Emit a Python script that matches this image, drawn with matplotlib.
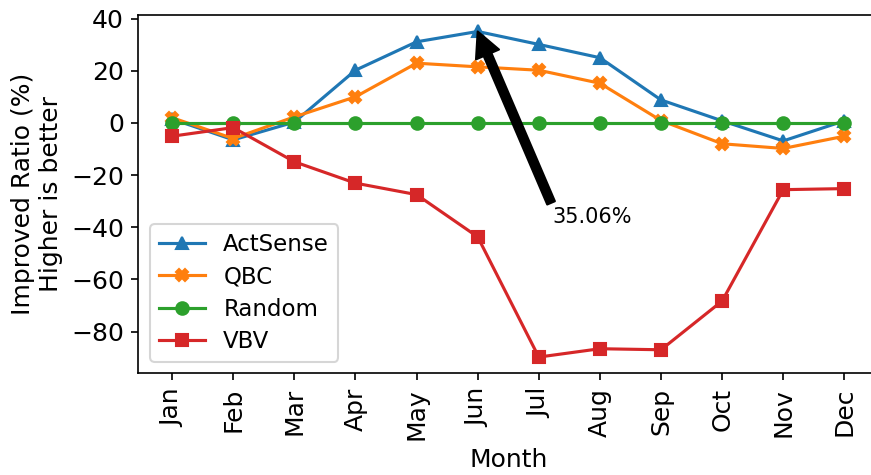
import matplotlib
matplotlib.use("Agg")
import matplotlib.pyplot as plt
import numpy as np

months = ['Jan', 'Feb', 'Mar', 'Apr', 'May', 'Jun',
          'Jul', 'Aug', 'Sep', 'Oct', 'Nov', 'Dec']

actsense = [1.5, -6.5, 0.3, 20.2, 31.1, 35.06, 30.1, 25.0, 8.8, 0.8, -6.9, 0.8]
qbc = [2.0, -6.0, 2.3, 10.0, 22.9, 21.5, 20.2, 15.2, 0.9, -8.0, -9.8, -5.1]
random_ = [0.0] * 12
vbv = [-5.1, -1.8, -14.9, -23.1, -27.5, -43.7, -89.8, -86.6, -87.0, -68.3, -25.6, -25.2]

fig, ax = plt.subplots(figsize=(871 / 150, 475 / 150), dpi=150)
# right edge of the axes falls just outside the picture, as in the original crop
fig.subplots_adjust(left=0.159, right=1.008, top=0.968, bottom=0.214)

x = np.arange(len(months))
ax.plot(x, actsense, '-^', color='tab:blue', label='ActSense')
ax.plot(x, qbc, '-X', color='tab:orange', label='QBC')
ax.plot(x, random_, '-o', color='tab:green', label='Random')
ax.plot(x, vbv, '-s', color='tab:red', label='VBV')

# arrow to best month
i_max = int(np.argmax(actsense))
ax.annotate('{:.2f}%'.format(actsense[i_max]), xy=(x[i_max], actsense[i_max]),
            xytext=(6.23, -38.4), fontsize=10,
            arrowprops=dict(facecolor='black'))

ax.set_xticks(x)
ax.set_xticklabels(months, rotation=90, fontsize=12)
ax.tick_params(axis='y', labelsize=12)
ax.set_xlabel('Month', fontsize=12)
ax.set_ylabel('Improved Ratio (%)\nHigher is better', fontsize=12)
ax.legend(loc='lower left', fontsize=11, labelspacing=0.4)

plt.savefig('out.png', dpi=150)
